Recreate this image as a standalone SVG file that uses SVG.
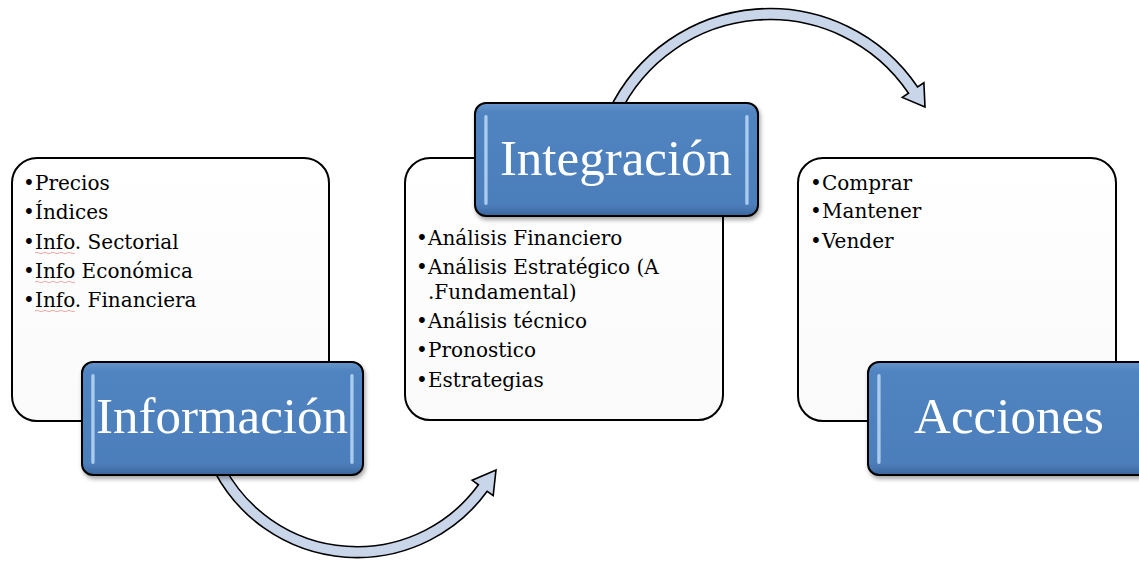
<svg xmlns="http://www.w3.org/2000/svg" width="1139" height="561" viewBox="0 0 1139 561">
<style>
.box{fill:url(#boxg);stroke:#000;stroke-width:2}
.lbl{fill:url(#lblg);stroke:#000;stroke-width:2;filter:url(#sh)}
.hl{fill:url(#hlg);opacity:0.8}
.ttl{font-family:"Liberation Serif",serif;font-size:51px;fill:#fff;text-anchor:middle}
.bl{font-family:"DejaVu Serif",serif;font-size:20px;fill:#000}
.arr{fill:#C9D6EA;stroke:#000;stroke-width:1.6;stroke-linejoin:miter}
.sq{fill:none;stroke:#F0A8A8;stroke-width:1}
</style>
<defs>
<linearGradient id="boxg" x1="0" y1="0" x2="0" y2="1">
<stop offset="0" stop-color="#FFFFFF"/><stop offset="1" stop-color="#FAFAFA"/>
</linearGradient>
<linearGradient id="lblg" x1="0" y1="0" x2="0" y2="1">
<stop offset="0" stop-color="#6A95CB"/><stop offset="0.08" stop-color="#5084C0"/><stop offset="0.9" stop-color="#4C7EBB"/><stop offset="1" stop-color="#3C669C"/>
</linearGradient>
<linearGradient id="hlg" x1="0" y1="0" x2="1" y2="0">
<stop offset="0" stop-color="#8FB6E6"/><stop offset="0.5" stop-color="#D6EEFF"/><stop offset="1" stop-color="#7FA9DD"/>
</linearGradient>
<filter id="sh" x="-10%" y="-10%" width="120%" height="130%">
<feDropShadow dx="1.5" dy="3" stdDeviation="2" flood-color="#000" flood-opacity="0.35"/>
</filter>
</defs>

<g id="connectors">
<path class="arr" d="M214.8,472.1 A161,161 0 0 0 487.2,491.3 L493.2,495.6 L496,470 L472.2,480.3 L478.4,484.8 A150,150 0 0 1 224.5,467 Z"/>
<path class="arr" d="M608.6,111.3 A178.1,178.1 0 0 1 917.6,87 L923.9,82.8 L925,107 L902.3,97.4 L908.5,93.2 A167.1,167.1 0 0 0 618.6,115.9 Z"/>
</g>

<g id="informacion">
<rect class="box" x="12" y="158" width="317" height="263" rx="25"/>
<text class="bl"><tspan x="23" y="190">•</tspan><tspan x="35" y="190">Precios</tspan></text>
<text class="bl"><tspan x="23" y="219">•</tspan><tspan x="35" y="219">Índices</tspan></text>
<text class="bl"><tspan x="23" y="249">•</tspan><tspan x="35" y="249">Info. Sectorial</tspan></text>
<text class="bl"><tspan x="23" y="278">•</tspan><tspan x="35" y="278">Info Económica</tspan></text>
<text class="bl"><tspan x="23" y="307">•</tspan><tspan x="35" y="307">Info. Financiera</tspan></text>
<path class="sq" d="M35,253 q2,-1.5 4,0 t4,0 t4,0 t4,0 t4,0 t4,0 t4,0 t4,0 t4,0 t4,0"/>
<path class="sq" d="M35,282 q2,-1.5 4,0 t4,0 t4,0 t4,0 t4,0 t4,0 t4,0 t4,0 t4,0 t4,0"/>
<path class="sq" d="M35,311 q2,-1.5 4,0 t4,0 t4,0 t4,0 t4,0 t4,0 t4,0 t4,0 t4,0 t4,0"/>
<rect class="lbl" x="82" y="362" width="281" height="113" rx="11"/>
<rect class="hl" x="91" y="374" width="4" height="90" rx="2"/>
<rect class="hl" x="350" y="374" width="4" height="90" rx="2"/>
<text class="ttl" x="222" y="433">Información</text>
</g>

<g id="integracion">
<rect class="box" x="405" y="158" width="318" height="262" rx="25"/>
<text class="bl"><tspan x="416" y="245">•</tspan><tspan x="428" y="245">Análisis Financiero</tspan></text>
<text class="bl"><tspan x="416" y="274">•</tspan><tspan x="428" y="274">Análisis Estratégico (A</tspan><tspan x="428" y="299">.Fundamental)</tspan></text>
<text class="bl"><tspan x="416" y="328">•</tspan><tspan x="428" y="328">Análisis técnico</tspan></text>
<text class="bl"><tspan x="416" y="357">•</tspan><tspan x="428" y="357">Pronostico</tspan></text>
<text class="bl"><tspan x="416" y="387">•</tspan><tspan x="428" y="387">Estrategias</tspan></text>
<rect class="lbl" x="475" y="103" width="283" height="113" rx="11"/>
<rect class="hl" x="484" y="115" width="4" height="90" rx="2"/>
<rect class="hl" x="745" y="115" width="4" height="90" rx="2"/>
<text class="ttl" x="616" y="175">Integración</text>
</g>

<g id="acciones">
<rect class="box" x="798" y="158" width="318" height="263" rx="25"/>
<text class="bl"><tspan x="810" y="190">•</tspan><tspan x="822" y="190">Comprar</tspan></text>
<text class="bl"><tspan x="810" y="218">•</tspan><tspan x="822" y="218">Mantener</tspan></text>
<text class="bl"><tspan x="810" y="248">•</tspan><tspan x="822" y="248">Vender</tspan></text>
<rect class="lbl" x="868" y="362" width="282" height="113" rx="11"/>
<rect class="hl" x="877" y="374" width="4" height="90" rx="2"/>
<text class="ttl" x="1009" y="433">Acciones</text>
</g>
</svg>
